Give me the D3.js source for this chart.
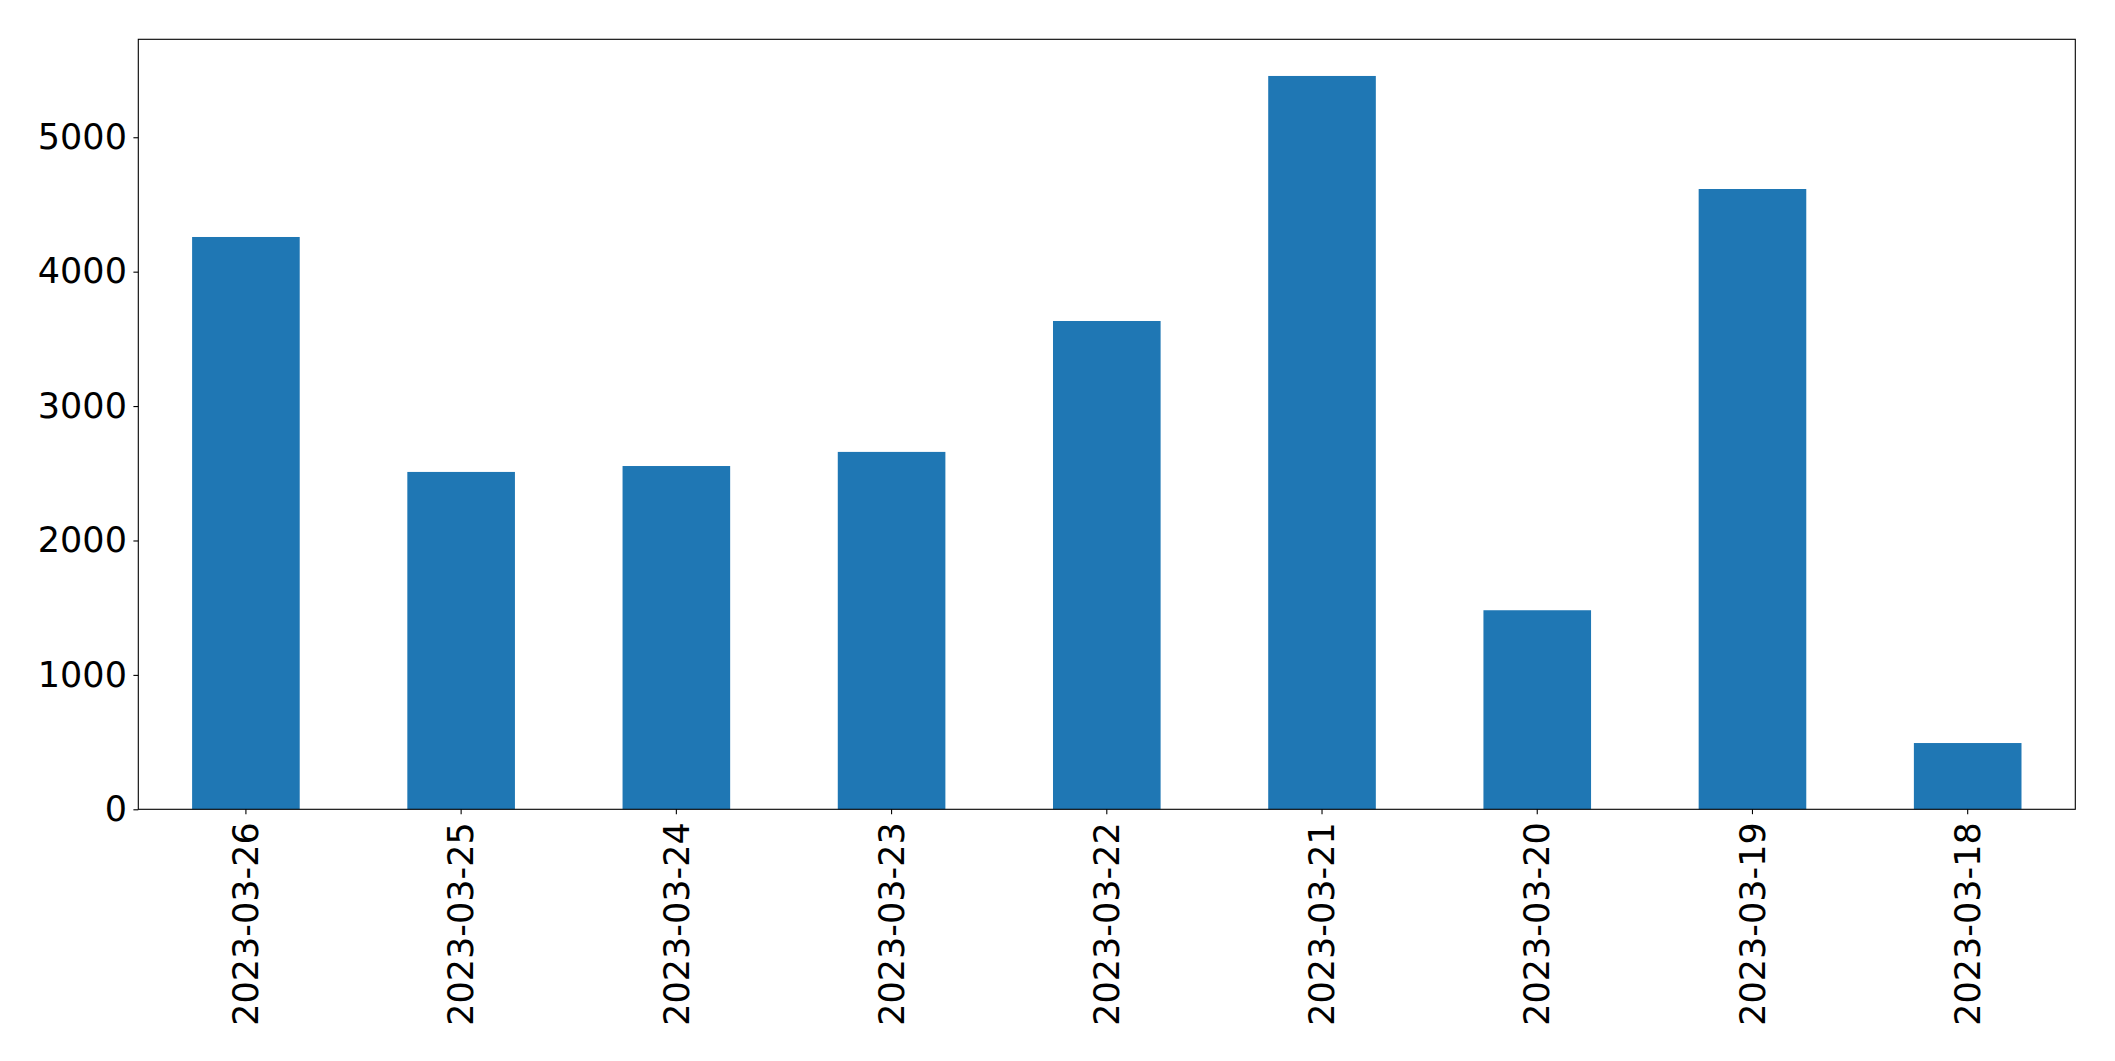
<!DOCTYPE html>
<html>
<head>
<meta charset="utf-8">
<script src="https://cdn.jsdelivr.net/npm/d3@7"></script>
<style>
  html, body { margin: 0; padding: 0; background: #ffffff; }
  svg { display: block; }
  text { font-family: "DejaVu Sans", sans-serif; }
</style>
</head>
<body>
<script>
const categories = ["2023-03-26", "2023-03-25", "2023-03-24", "2023-03-23", "2023-03-22", "2023-03-21", "2023-03-20", "2023-03-19", "2023-03-18"];
const values = [4258, 2510, 2554, 2659, 3633, 5456, 1481, 4615, 493];
const yTicks = [0, 1000, 2000, 3000, 4000, 5000];

const W = 2115, H = 1061;
const margin = { left: 138.3, top: 39.3, right: W - 2075.3, bottom: H - 809.3 };
const innerW = W - margin.left - margin.right;
const innerH = H - margin.top - margin.bottom;

const svg = d3.select("body").append("svg").attr("width", W).attr("height", H);
const g = svg.append("g").attr("transform", `translate(${margin.left},${margin.top})`);

const x = d3.scaleBand().domain(categories).range([0, innerW]).paddingInner(0.5).paddingOuter(0.25);
const yMax = d3.max(values) * 1.05;
const y = d3.scaleLinear().domain([0, yMax]).range([innerH, 0]);

g.selectAll("rect.bar").data(values).join("rect")
  .attr("class", "bar")
  .attr("x", (d, i) => x(categories[i]))
  .attr("width", x.bandwidth())
  .attr("y", d => y(d))
  .attr("height", d => innerH - y(d))
  .attr("fill", "#1f77b4");

const fontSize = 35;

const yAxis = g.append("g")
  .call(d3.axisLeft(y).tickValues(yTicks).tickFormat(d3.format("d")).tickSize(4.9).tickPadding(6.5));
yAxis.select(".domain").remove();
yAxis.selectAll("line").attr("stroke", "#000").attr("stroke-width", 1.1);
yAxis.selectAll("text").attr("font-size", fontSize).attr("fill", "#000").attr("font-family", "DejaVu Sans");

const xAxis = g.append("g").attr("transform", `translate(0,${innerH})`)
  .call(d3.axisBottom(x).tickSize(4.9).tickPadding(0));
xAxis.select(".domain").remove();
xAxis.selectAll("line").attr("stroke", "#000").attr("stroke-width", 1.1);
xAxis.selectAll("text")
  .attr("font-size", fontSize).attr("fill", "#000").attr("font-family", "DejaVu Sans")
  .attr("transform", "rotate(-90)")
  .attr("text-anchor", "end")
  .attr("x", -13)
  .attr("y", 0)
  .attr("dy", "0.35em");

g.append("rect")
  .attr("x", 0).attr("y", 0).attr("width", innerW).attr("height", innerH)
  .attr("fill", "none").attr("stroke", "#000").attr("stroke-width", 1.1);
</script>
</body>
</html>
